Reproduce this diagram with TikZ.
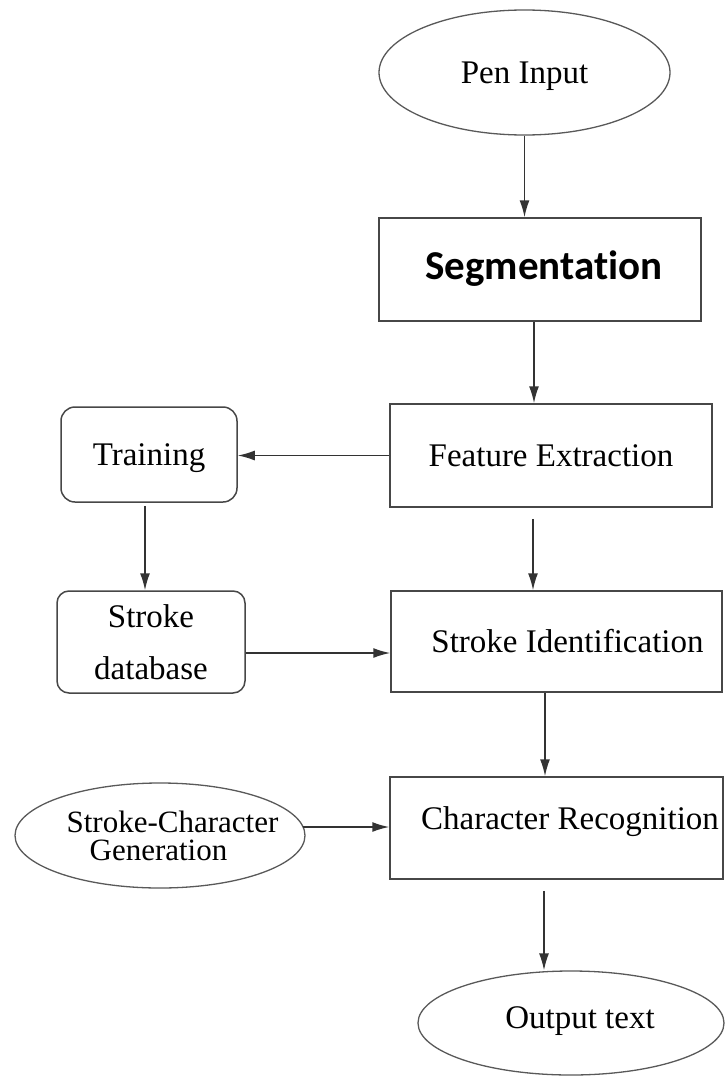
\documentclass[tikz,border=0pt]{standalone}
\usepackage{fontspec}
\setmainfont{Liberation Serif}
\newfontfamily\segfont{Carlito}[Ligatures=NoCommon]
\usetikzlibrary{shapes.geometric,arrows.meta}
\begin{document}
\begin{tikzpicture}[x=1pt,y=-1pt,
  every node/.style={inner sep=0pt, text=black, font=\fontsize{33}{40}\selectfont},
  onel/.style={text height=22pt, text depth=0pt},
  stepbox/.style={draw=black!72, line width=1.5pt, rectangle, minimum width=322pt, minimum height=103pt},
  roundbox/.style={draw=black!72, line width=1.5pt, rectangle, rounded corners=14pt},
  oval/.style={draw=black!65, line width=1.3pt, ellipse},
  arr/.style={draw=black!80, line width=1.5pt, -{Latex[length=17pt,width=10pt]}}]

\useasboundingbox (0,0) rectangle (724,1076);

% main column
\node[oval, onel, minimum width=291pt, minimum height=125pt] (pen) at (524.5,72.5) {Pen Input};
\node[stepbox, text height=25pt, text depth=6pt, font=\segfont\bfseries\fontsize{41}{46}\selectfont]
  (seg) at (540,269.5) {\hspace*{8pt}Segmentation};
\node[stepbox, onel] (fe) at (551,455.5) {Feature Extraction};
\node[stepbox, onel, minimum width=331pt, minimum height=101pt] (si) at (556.5,641.5)
  {\hspace*{22pt}Stroke Identification};
\node[stepbox, text height=22pt, text depth=20pt, minimum width=333pt, minimum height=102pt]
  (cr) at (556.5,828) {\hspace*{27pt}Character Recognition};
\node[oval, text height=22pt, text depth=12pt, minimum width=306pt, minimum height=104pt]
  (out) at (571,1023) {\hspace*{18pt}Output text};

% side column
\node[roundbox, onel, minimum width=176pt, minimum height=95pt] (tr) at (149,454.5) {Training};
\node[roundbox, rounded corners=12pt, align=center, font=\fontsize{33}{52}\selectfont,
  minimum width=188pt, minimum height=102pt] (sd) at (151,642) {Stroke\\database};
\node[oval, align=left, inner xsep=-40pt, font=\fontsize{31}{28}\selectfont,
  minimum width=290pt, minimum height=105pt]
  (scg) at (160,835.5) {\hspace*{25pt}Stroke-Character\\\hspace*{48pt}Generation};

% connectors
\draw[arr] (pen.south) -- (pen.south |- seg.north);
\draw[arr] ([xshift=-6pt]seg.south) -- ([xshift=-6pt]seg.south |- fe.north);
\draw[arr] (fe.west) -- (fe.west -| tr.east);
\draw[arr, shorten <=3pt] ([xshift=-4pt]tr.south) -- ([xshift=-4pt]tr.south |- sd.north);
\draw[arr, shorten <=11pt] ([xshift=-18pt]fe.south) -- ([xshift=-18pt]fe.south |- si.north);
\draw[arr] ([yshift=-11pt]sd.east) -- ([yshift=-11pt]sd.east -| si.west);
\draw[arr] ([xshift=-11.5pt]si.south) -- ([xshift=-11.5pt]si.south |- cr.north);
\draw[arr] ([xshift=-3pt,yshift=8.5pt]scg.east) -- ([yshift=8.5pt]scg.east -| cr.west);
\draw[arr, shorten <=11pt] ([xshift=-12.5pt]cr.south) -- ([xshift=-12.5pt]cr.south |- out.north);
\end{tikzpicture}
\end{document}
